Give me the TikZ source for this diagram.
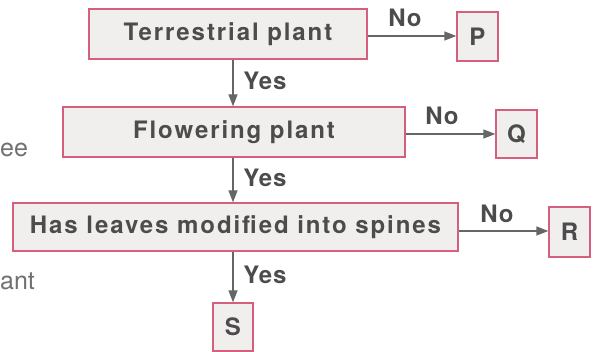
\documentclass[tikz,border=0pt]{standalone}
\usepackage{fontspec}
\setmainfont{TeX Gyre Heros}
\usetikzlibrary{arrows.meta}
\definecolor{boxline}{HTML}{D4607E}
\definecolor{boxfill}{HTML}{F1EEEE}
\definecolor{ink}{HTML}{4C4C4C}
\definecolor{arrowc}{HTML}{666666}
\tikzset{
  box/.style={draw=boxline, fill=boxfill, line width=1.3pt, inner sep=0pt,
    text=ink, font=\fontsize{24}{26}\selectfont\bfseries\addfontfeature{LetterSpace=8}},
  arr/.style={draw=arrowc, line width=1.3pt, -{Triangle[length=12pt,width=9pt]}},
  lab/.style={text=ink, font=\fontsize{24}{26}\selectfont\bfseries\addfontfeature{LetterSpace=4}, inner sep=0pt},
  bg/.style={text=ink!80, font=\fontsize{25}{27}\selectfont, inner sep=0pt}
}
\begin{document}
\begin{tikzpicture}[x=1pt,y=-1pt]
\useasboundingbox (0,0) rectangle (598,352);
\node[box, minimum width=278pt, minimum height=50pt] (b1) at (228,34) {Terrestrial plant};
\node[box, minimum width=41pt, minimum height=49pt] (P) at (477.5,36.5) {P};
\node[box, minimum width=342pt, minimum height=50pt] (b2) at (234,132) {Flowering plant};
\node[box, minimum width=41pt, minimum height=48pt] (Q) at (516.5,134) {Q};
\node[box, minimum width=445pt, minimum height=48pt] (b3) at (235.5,227) {Has leaves modified into spines};
\node[box, minimum width=41pt, minimum height=50pt] (R) at (569.5,232) {R};
\node[box, minimum width=40pt, minimum height=48pt] (S) at (233,327) {S};

\draw[arr] (b1.south -| S.north) -- (b2.north -| S.north);
\draw[arr] (b2.south -| S.north) -- (b3.north -| S.north);
\draw[arr] (b3.south -| S.north) -- (S.north);
\draw[arr] (b1.east) ++(0,2) coordinate (e1) -- (P.west |- e1);
\draw[arr] (b2.east) ++(0,2) coordinate (e2) -- (Q.west |- e2);
\draw[arr] (b3.east) ++(0,4) coordinate (e3) -- (R.west |- e3);

\node[lab] (y1) at (265,81) {Yes};
\node[lab] (y2) at (265,178) {Yes};
\node[lab] (y3) at (265,275) {Yes};
\node[lab] (n1) at (405,18) {No};
\node[lab] (n2) at (442,116) {No};
\node[lab] (n3) at (497,214) {No};

\node[bg, anchor=west] (t1) at (0,150) {ee};
\node[bg, anchor=west] (t2) at (0,281) {ant};
\end{tikzpicture}
\end{document}
